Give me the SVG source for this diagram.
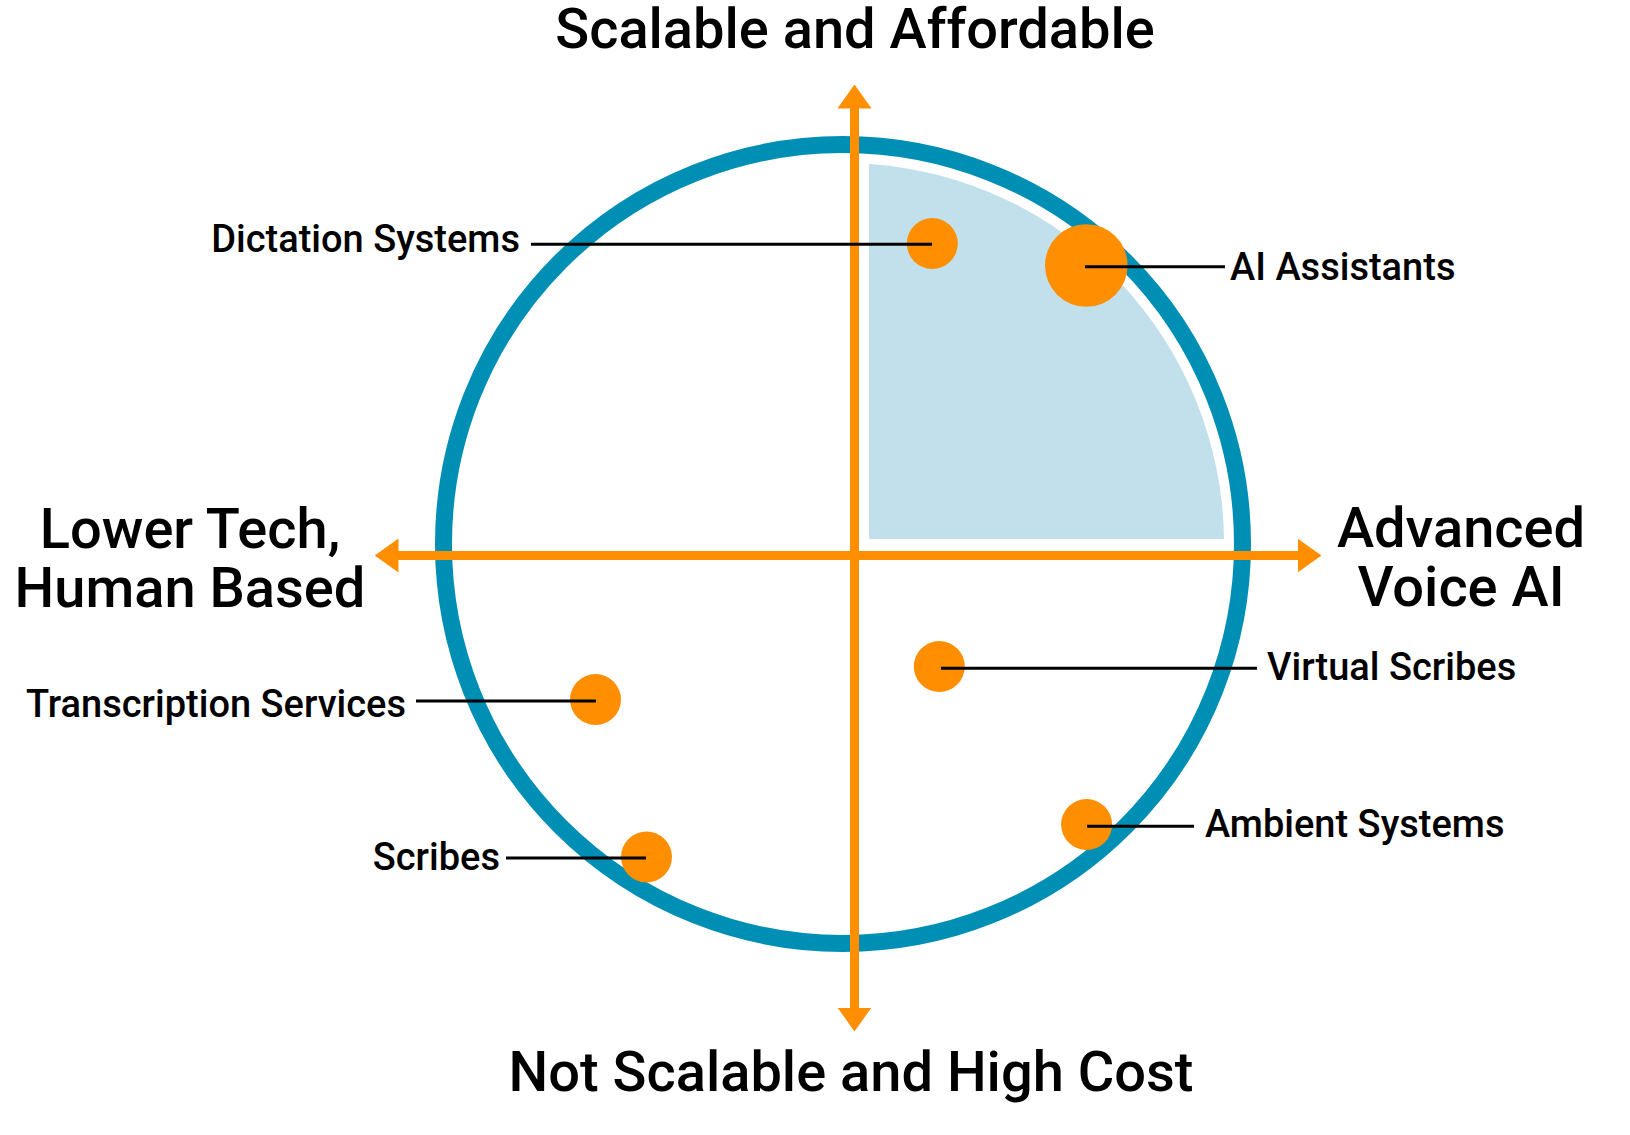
<svg xmlns="http://www.w3.org/2000/svg" width="1630" height="1135" viewBox="0 0 1630 1135">
<defs>
<style>
.ring{fill:none;stroke:#008FB4;stroke-width:17}
.quad{fill:#C2E0EB}
.axis{stroke:#FF8F00;stroke-width:9;fill:none}
.dot{fill:#FF8F00}
.lead{stroke:#000;stroke-width:3;fill:none}
.lbl{font-family:Roboto,"Liberation Sans",sans-serif;font-weight:500;font-size:38px;fill:#000}
.hdr{font-family:Roboto,"Liberation Sans",sans-serif;font-weight:500;font-size:56px;fill:#000}
</style>
<marker id="ah" viewBox="0 0 24 34" refX="0.5" refY="17" markerWidth="24" markerHeight="34" markerUnits="userSpaceOnUse" orient="auto-start-reverse">
<path d="M0,0 L24,17 L0,34 Z" fill="#FF8F00"/>
</marker>
</defs>
<rect width="1630" height="1135" fill="#fff"/>
<g id="chart">
<circle class="ring" cx="843" cy="544" r="399.5"/>
<path id="quadrant" class="quad" d="M869,539 L869,163.9 A381,381 0 0 1 1224,539 Z"/>
</g>
<g id="axes">
<line class="axis" x1="854.5" y1="1008" x2="854.5" y2="108" marker-start="url(#ah)" marker-end="url(#ah)"/>
<line class="axis" x1="398" y1="555.5" x2="1298" y2="555.5" marker-start="url(#ah)" marker-end="url(#ah)"/>
</g>
<g id="axis-labels">
<text class="hdr" x="855" y="48" text-anchor="middle">Scalable and Affordable</text>
<text class="hdr" x="851" y="1091" text-anchor="middle">Not Scalable and High Cost</text>
<text class="hdr" x="190" y="548" text-anchor="middle">Lower Tech,</text>
<text class="hdr" x="190" y="607" text-anchor="middle">Human Based</text>
<text class="hdr" x="1461" y="547" text-anchor="middle">Advanced</text>
<text class="hdr" x="1461" y="606" text-anchor="middle">Voice AI</text>
</g>
<g id="node-dictation"><circle class="dot" cx="932.3" cy="243.5" r="25.5"/><text class="lbl" x="520" y="252" text-anchor="end">Dictation Systems</text></g>
<g id="node-ai-assistants"><circle class="dot" cx="1086.3" cy="265.5" r="41.3"/><text class="lbl" x="1230" y="280">AI Assistants</text></g>
<g id="node-transcription"><circle class="dot" cx="595.5" cy="699.5" r="25.5"/><text class="lbl" x="26" y="717">Transcription Services</text></g>
<g id="node-scribes"><circle class="dot" cx="646.5" cy="857" r="25.5"/><text class="lbl" x="500" y="870" text-anchor="end">Scribes</text></g>
<g id="node-virtual-scribes"><circle class="dot" cx="939.3" cy="666.5" r="25.5"/><text class="lbl" x="1267" y="680">Virtual Scribes</text></g>
<g id="node-ambient"><circle class="dot" cx="1086.6" cy="824.5" r="25.5"/><text class="lbl" x="1205" y="837">Ambient Systems</text></g>
<g id="connectors">
<line class="lead" x1="531" y1="244.3" x2="932" y2="244.3"/>
<line class="lead" x1="1085" y1="266.7" x2="1225" y2="266.7"/>
<line class="lead" x1="416" y1="701" x2="596" y2="701"/>
<line class="lead" x1="506" y1="858" x2="646" y2="858"/>
<line class="lead" x1="941" y1="668.3" x2="1257" y2="668.3"/>
<line class="lead" x1="1087" y1="826.3" x2="1194" y2="826.3"/>
</g>
</svg>
